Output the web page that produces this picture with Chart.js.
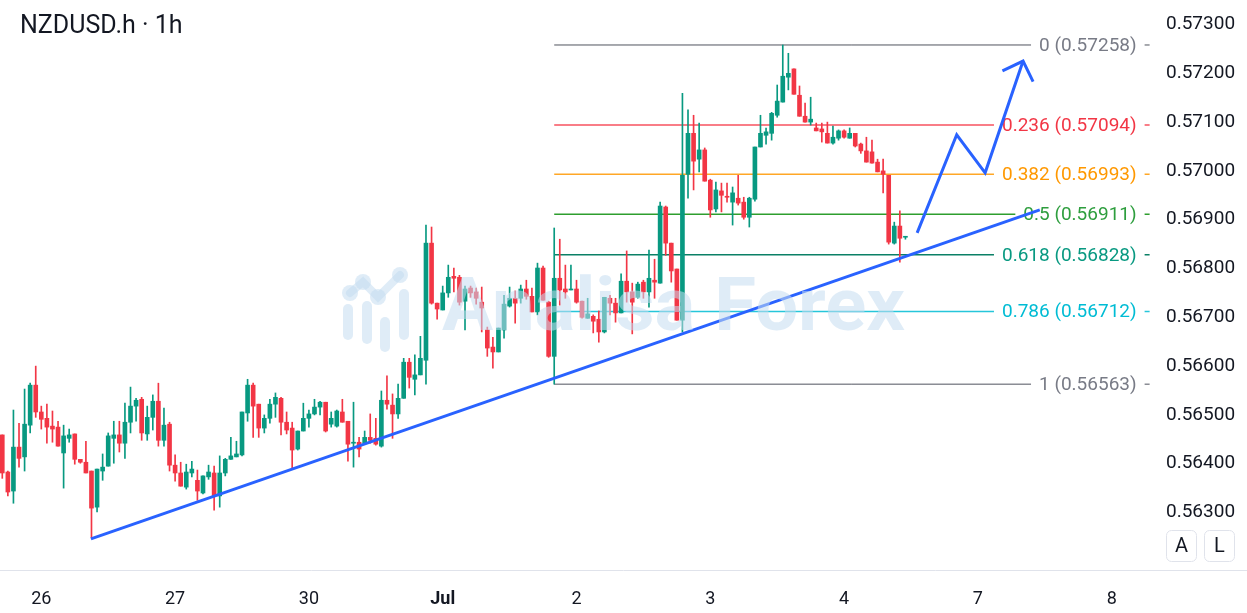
<!DOCTYPE html>
<html>
<head>
<meta charset="utf-8">
<script src="https://cdn.jsdelivr.net/npm/chart.js@4.4.1/dist/chart.umd.min.js"></script>
<style>
  html, body { margin: 0; padding: 0; background: #fff; }
  #wrap { width: 1247px; height: 613px; }
</style>
</head>
<body>
<div id="wrap"><canvas id="myChart" width="1247" height="613"></canvas></div>
<script>
// hourly candles, NZDUSD.h, index 0 = Jun 25 17:00
const opens = [
  0.56459,0.56383,0.56344,0.56434,0.56414,0.56479,0.56561,0.56506,0.56493,0.56477,
  0.56475,0.56422,0.56452,0.56461,0.56409,0.56403,0.56385,0.56311,0.56385,0.56395,
  0.56452,0.56459,0.56442,0.56485,0.56518,0.56532,0.56461,0.56495,0.56528,0.56448,
  0.56481,0.56397,0.56381,0.56352,0.56381,0.56366,0.56340,0.56373,0.56381,0.56334,
  0.56381,0.56409,0.56414,0.56418,0.56504,0.56561,0.56522,0.56473,0.56493,0.56522,
  0.56534,0.56485,0.56473,0.56430,0.56467,0.56493,0.56502,0.56516,0.56526,0.56481,
  0.56477,0.56506,0.56487,0.56442,0.56444,0.56442,0.56454,0.56452,0.56436,0.56530,
  0.56520,0.56502,0.56534,0.56608,0.56573,0.56582,0.56612,0.56852,0.56729,0.56715,
  0.56750,0.56784,0.56782,0.56733,0.56760,0.56752,0.56731,0.56674,0.56639,0.56629,
  0.56674,0.56723,0.56739,0.56739,0.56758,0.56743,0.56711,0.56801,0.56731,0.56620,
  0.56780,0.56758,0.56756,0.56758,0.56733,0.56698,0.56702,0.56696,0.56670,0.56739,
  0.56729,0.56709,0.56774,0.56752,0.56741,0.56772,0.56752,0.56776,0.56770,0.56926,
  0.56852,0.56799,0.56694,0.56993,0.57077,0.57024,0.57043,0.56981,0.56922,0.56959,
  0.56948,0.56936,0.56944,0.56936,0.56905,0.56942,0.57049,0.57073,0.57077,0.57114,
  0.57141,0.57192,0.57209,0.57155,0.57112,0.57100,0.57088,0.57086,0.57077,0.57057,
  0.57067,0.57082,0.57067,0.57077,0.57055,0.57041,0.57039,0.57018,0.57000,0.56991,
  0.56852,0.56887,0.56864
];
const highs = [
  0.56459,0.56385,0.56510,0.56483,0.56553,0.56565,0.56600,0.56518,0.56522,0.56508,
  0.56487,0.56479,0.56471,0.56461,0.56409,0.56446,0.56385,0.56389,0.56420,0.56463,
  0.56487,0.56487,0.56524,0.56557,0.56534,0.56536,0.56518,0.56541,0.56565,0.56514,
  0.56485,0.56418,0.56403,0.56399,0.56405,0.56387,0.56375,0.56397,0.56395,0.56416,
  0.56411,0.56454,0.56446,0.56506,0.56573,0.56565,0.56522,0.56500,0.56532,0.56545,
  0.56536,0.56506,0.56485,0.56467,0.56524,0.56510,0.56532,0.56528,0.56526,0.56506,
  0.56510,0.56532,0.56487,0.56526,0.56454,0.56467,0.56502,0.56493,0.56549,0.56580,
  0.56543,0.56563,0.56616,0.56616,0.56623,0.56661,0.56889,0.56885,0.56729,0.56764,
  0.56807,0.56801,0.56786,0.56764,0.56764,0.56760,0.56762,0.56680,0.56659,0.56678,
  0.56745,0.56762,0.56754,0.56766,0.56776,0.56760,0.56811,0.56805,0.56733,0.56883,
  0.56860,0.56807,0.56807,0.56776,0.56733,0.56739,0.56705,0.56713,0.56741,0.56745,
  0.56739,0.56789,0.56836,0.56770,0.56772,0.56776,0.56838,0.56819,0.56936,0.56928,
  0.56852,0.56799,0.57159,0.57125,0.57114,0.57098,0.57047,0.56983,0.56977,0.56975,
  0.56975,0.56967,0.56991,0.56946,0.56946,0.57049,0.57114,0.57088,0.57120,0.57176,
  0.57258,0.57241,0.57209,0.57174,0.57139,0.57151,0.57098,0.57098,0.57100,0.57092,
  0.57084,0.57084,0.57088,0.57077,0.57057,0.57069,0.57063,0.57024,0.57024,0.56991,
  0.56895,0.56918,0.56866
];
const lows = [
  0.56370,0.56334,0.56319,0.56393,0.56385,0.56463,0.56495,0.56471,0.56442,0.56444,
  0.56436,0.56350,0.56444,0.56399,0.56401,0.56381,0.56248,0.56301,0.56366,0.56395,
  0.56401,0.56424,0.56411,0.56463,0.56487,0.56448,0.56448,0.56469,0.56436,0.56436,
  0.56385,0.56364,0.56354,0.56348,0.56373,0.56325,0.56338,0.56368,0.56305,0.56311,
  0.56375,0.56409,0.56414,0.56416,0.56487,0.56454,0.56454,0.56463,0.56483,0.56495,
  0.56459,0.56461,0.56391,0.56428,0.56467,0.56475,0.56500,0.56500,0.56465,0.56475,
  0.56475,0.56485,0.56405,0.56393,0.56414,0.56442,0.56442,0.56438,0.56434,0.56512,
  0.56452,0.56493,0.56534,0.56555,0.56541,0.56582,0.56563,0.56727,0.56696,0.56715,
  0.56741,0.56752,0.56725,0.56674,0.56741,0.56727,0.56670,0.56620,0.56596,0.56629,
  0.56657,0.56721,0.56688,0.56729,0.56737,0.56711,0.56705,0.56735,0.56618,0.56563,
  0.56725,0.56739,0.56756,0.56729,0.56698,0.56698,0.56668,0.56649,0.56668,0.56705,
  0.56690,0.56709,0.56731,0.56666,0.56739,0.56739,0.56721,0.56739,0.56770,0.56827,
  0.56772,0.56694,0.56670,0.56944,0.56961,0.56998,0.56979,0.56905,0.56916,0.56916,
  0.56936,0.56889,0.56930,0.56901,0.56885,0.56938,0.57049,0.57055,0.57063,0.57110,
  0.57141,0.57166,0.57157,0.57112,0.57100,0.57094,0.57082,0.57059,0.57057,0.57055,
  0.57063,0.57067,0.57067,0.57049,0.57036,0.57018,0.57016,0.56998,0.56955,0.56850,
  0.56850,0.56813,0.56860
];
const closes = [
  0.56381,0.56342,0.56434,0.56411,0.56481,0.56561,0.56506,0.56491,0.56475,0.56471,
  0.56436,0.56457,0.56459,0.56409,0.56403,0.56381,0.56309,0.56389,0.56393,0.56457,
  0.56459,0.56442,0.56485,0.56518,0.56530,0.56463,0.56495,0.56528,0.56448,0.56479,
  0.56397,0.56381,0.56354,0.56383,0.56389,0.56344,0.56375,0.56383,0.56334,0.56381,
  0.56409,0.56416,0.56420,0.56506,0.56561,0.56518,0.56473,0.56493,0.56522,0.56536,
  0.56485,0.56469,0.56428,0.56467,0.56493,0.56502,0.56516,0.56526,0.56467,0.56493,
  0.56508,0.56485,0.56440,0.56444,0.56430,0.56454,0.56448,0.56440,0.56530,0.56522,
  0.56502,0.56534,0.56608,0.56577,0.56582,0.56616,0.56852,0.56729,0.56717,0.56750,
  0.56782,0.56780,0.56731,0.56758,0.56750,0.56739,0.56719,0.56637,0.56629,0.56678,
  0.56727,0.56739,0.56729,0.56758,0.56743,0.56711,0.56801,0.56735,0.56620,0.56780,
  0.56756,0.56752,0.56758,0.56731,0.56700,0.56707,0.56692,0.56670,0.56741,0.56729,
  0.56709,0.56774,0.56752,0.56731,0.56768,0.56752,0.56780,0.56772,0.56928,0.56852,
  0.56795,0.56694,0.56991,0.57077,0.57020,0.57043,0.56979,0.56920,0.56961,0.56950,
  0.56946,0.56955,0.56934,0.56905,0.56944,0.57049,0.57077,0.57080,0.57118,0.57143,
  0.57194,0.57200,0.57157,0.57112,0.57100,0.57106,0.57082,0.57080,0.57057,0.57069,
  0.57082,0.57069,0.57077,0.57051,0.57041,0.57018,0.57016,0.56998,0.56993,0.56854,
  0.56887,0.56862,0.56866
];

// x axis: day starts (candle index) and their labels
const dayTicks = [7, 31, 55, 79, 103, 127, 151, 175, 199];
const dayLabels = ['26', '27', '30', 'Jul', '2', '3', '4', '7', '8'];
const yTicks = [0.563, 0.564, 0.565, 0.566, 0.567, 0.568, 0.569, 0.570, 0.571, 0.572, 0.573];

// fibonacci retracement
const fibRatios = ['0', '0.236', '0.382', '0.5', '0.618', '0.786', '1'];
const fibPrices = [0.57258, 0.57094, 0.56993, 0.56911, 0.56828, 0.56712, 0.56563];
const fibStart = 99, fibEnd = 205.8;

// drawings
const trendX = [15.9, 186.1];
const trendY = [0.56246, 0.56920];
const pathX = [164.1, 171.2, 176.3, 183.1];
const pathY = [0.56873, 0.57074, 0.56996, 0.57225];
const headX = [179.4, 183.1, 184.9];
const headY = [0.57205, 0.57225, 0.57183];

const upColor = '#089981', downColor = '#f23645', blue = '#2962ff';
const fibLineColors = ['#50535e', '#f7525f', '#ffa726', '#2e9e2e', '#0b8066', '#26c6da', '#50535e'];
const fibTextColors = ['#787b86', '#f23645', '#ff9800', '#2e9e3e', '#089981', '#00bcd4', '#787b86'];

const candleColors = closes.map((c, i) => c >= opens[i] ? upColor : downColor);

const fibDatasets = fibPrices.map((p, i) => ({
  type: 'line',
  data: [{x: fibStart, y: p}, {x: fibEnd, y: p}],
  borderColor: fibLineColors[i],
  borderWidth: (i === 0 || i === 6) ? 1 : 1.5,
  pointRadius: 0,
  order: 3
}));

const extras = {
  id: 'extras',
  beforeDatasetDraw(chart, args) {
    if (chart.data.datasets[args.index].role !== 'wicks') return;
    const {ctx, scales: {x, y}} = chart;
    ctx.save();
    ctx.font = '19px Roboto';
    ctx.textBaseline = 'middle';
    ctx.textAlign = 'right';
    const right = x.getPixelForValue(fibEnd) - 13;
    fibPrices.forEach((p, i) => {
      const py = y.getPixelForValue(p);
      const txt = fibRatios[i] + ' (' + p.toFixed(5) + ')';
      const w = ctx.measureText(txt).width;
      ctx.fillStyle = '#ffffff';
      ctx.fillRect(right - w - 8, py - 11, w + 16, 22);
      ctx.fillStyle = fibTextColors[i];
      ctx.fillText(txt, right, py + 1);
    });
    ctx.restore();
  },
  afterDatasetsDraw(chart) {
    // watermark
    const {ctx} = chart;
    ctx.save();
    const wm = 'rgba(196,220,240,0.55)';
    ctx.fillStyle = wm;
    ctx.strokeStyle = wm;
    ctx.font = 'bold 74px Roboto';
    ctx.textBaseline = 'middle';
    const w = ctx.measureText('Analisa Forex').width;
    ctx.translate(442, 311);
    ctx.scale(463 / w, 1);
    ctx.fillText('Analisa Forex', 0, 0);
    ctx.restore();
    ctx.save();
    ctx.fillStyle = wm;
    ctx.strokeStyle = wm;
    ctx.lineCap = 'round';
    ctx.lineWidth = 10;
    [[348, 309, 335], [367, 306, 339], [385, 322, 347], [404, 294, 335]].forEach(b => {
      ctx.beginPath(); ctx.moveTo(b[0], b[1]); ctx.lineTo(b[0], b[2]); ctx.stroke();
    });
    ctx.lineWidth = 8;
    ctx.beginPath();
    ctx.moveTo(350, 293); ctx.lineTo(363, 282); ctx.lineTo(378, 297); ctx.lineTo(400, 275);
    ctx.stroke();
    [[350, 293], [363, 282], [378, 297], [400, 275]].forEach(c => {
      ctx.beginPath(); ctx.arc(c[0], c[1], 8, 0, Math.PI * 2); ctx.fill();
    });
    ctx.restore();
  },
  afterDraw(chart) {
    const {ctx, chartArea} = chart;
    ctx.save();
    // bottom axis line
    ctx.strokeStyle = '#e0e3eb';
    ctx.lineWidth = 1;
    ctx.beginPath();
    ctx.moveTo(0, chartArea.bottom + 0.5);
    ctx.lineTo(chart.width, chartArea.bottom + 0.5);
    ctx.stroke();
    // title
    ctx.fillStyle = '#131722';
    ctx.font = '25px Roboto';
    ctx.textBaseline = 'middle';
    ctx.textAlign = 'left';
    ctx.fillText('NZDUSD.h \u00b7 1h', 20, 27);
    // A / L buttons
    ctx.font = '20px Roboto';
    ctx.textAlign = 'center';
    [['A', 1166], ['L', 1204]].forEach(b => {
      ctx.beginPath();
      ctx.roundRect(b[1] + 0.5, 530.5, 30, 31, 5);
      ctx.fillStyle = '#ffffff';
      ctx.fill();
      ctx.strokeStyle = '#e0e3eb';
      ctx.stroke();
      ctx.fillStyle = '#131722';
      ctx.fillText(b[0], b[1] + 15.5, 547);
    });
    ctx.restore();
  }
};

const ctx = document.getElementById('myChart').getContext('2d');

new Chart(ctx, {
  type: 'bar',
  data: {
    datasets: [
      ...fibDatasets,
      {
        role: 'wicks',
        data: lows.map((l, i) => ({x: i, y: [l, highs[i]]})),
        backgroundColor: candleColors,
        barThickness: 1,
        grouped: false,
        order: 2
      },
      {
        data: opens.map((o, i) => ({x: i, y: [o, closes[i]]})),
        backgroundColor: candleColors,
        barThickness: 4,
        minBarLength: 1,
        grouped: false,
        order: 1
      },
      {
        type: 'line',
        data: trendX.map((v, i) => ({x: v, y: trendY[i]})),
        borderColor: blue,
        borderWidth: 3,
        pointRadius: 0,
        order: 0
      },
      {
        type: 'line',
        data: pathX.map((v, i) => ({x: v, y: pathY[i]})),
        borderColor: blue,
        borderWidth: 3,
        pointRadius: 0,
        order: 0
      },
      {
        type: 'line',
        data: headX.map((v, i) => ({x: v, y: headY[i]})),
        borderColor: blue,
        borderWidth: 3,
        pointRadius: 0,
        order: 0
      }
    ]
  },
  options: {
    responsive: false,
    animation: false,
    layout: { padding: 0 },
    plugins: {
      legend: { display: false },
      tooltip: { enabled: false }
    },
    scales: {
      x: {
        type: 'linear',
        min: -0.41,
        max: 205.87,
        offset: false,
        grid: { display: false },
        border: { display: false },
        afterBuildTicks: s => { s.ticks = dayTicks.map(v => ({value: v})); },
        afterFit: s => {
          s.height = 43;
          s.paddingLeft = 0; s.paddingRight = 0; s.paddingTop = 0; s.paddingBottom = 0;
        },
        ticks: {
          autoSkip: false,
          maxRotation: 0,
          padding: 11,
          color: '#131722',
          font: c => ({
            family: 'Roboto',
            size: 18,
            weight: (c.tick && dayLabels[dayTicks.indexOf(c.tick.value)] === 'Jul') ? 'bold' : 'normal'
          }),
          callback: v => dayLabels[dayTicks.indexOf(v)]
        }
      },
      y: {
        type: 'linear',
        position: 'right',
        min: 0.561822,
        max: 0.573502,
        grid: { display: false },
        border: { display: false },
        afterBuildTicks: s => { s.ticks = yTicks.map(v => ({value: v})); },
        afterFit: s => {
          s.width = 97;
          s.paddingLeft = 0; s.paddingRight = 0; s.paddingTop = 0; s.paddingBottom = 0;
        },
        ticks: {
          padding: 8,
          color: '#131722',
          font: { family: 'Roboto', size: 19 },
          callback: v => v.toFixed(5)
        }
      }
    }
  },
  plugins: [extras]
});
</script>
</body>
</html>
